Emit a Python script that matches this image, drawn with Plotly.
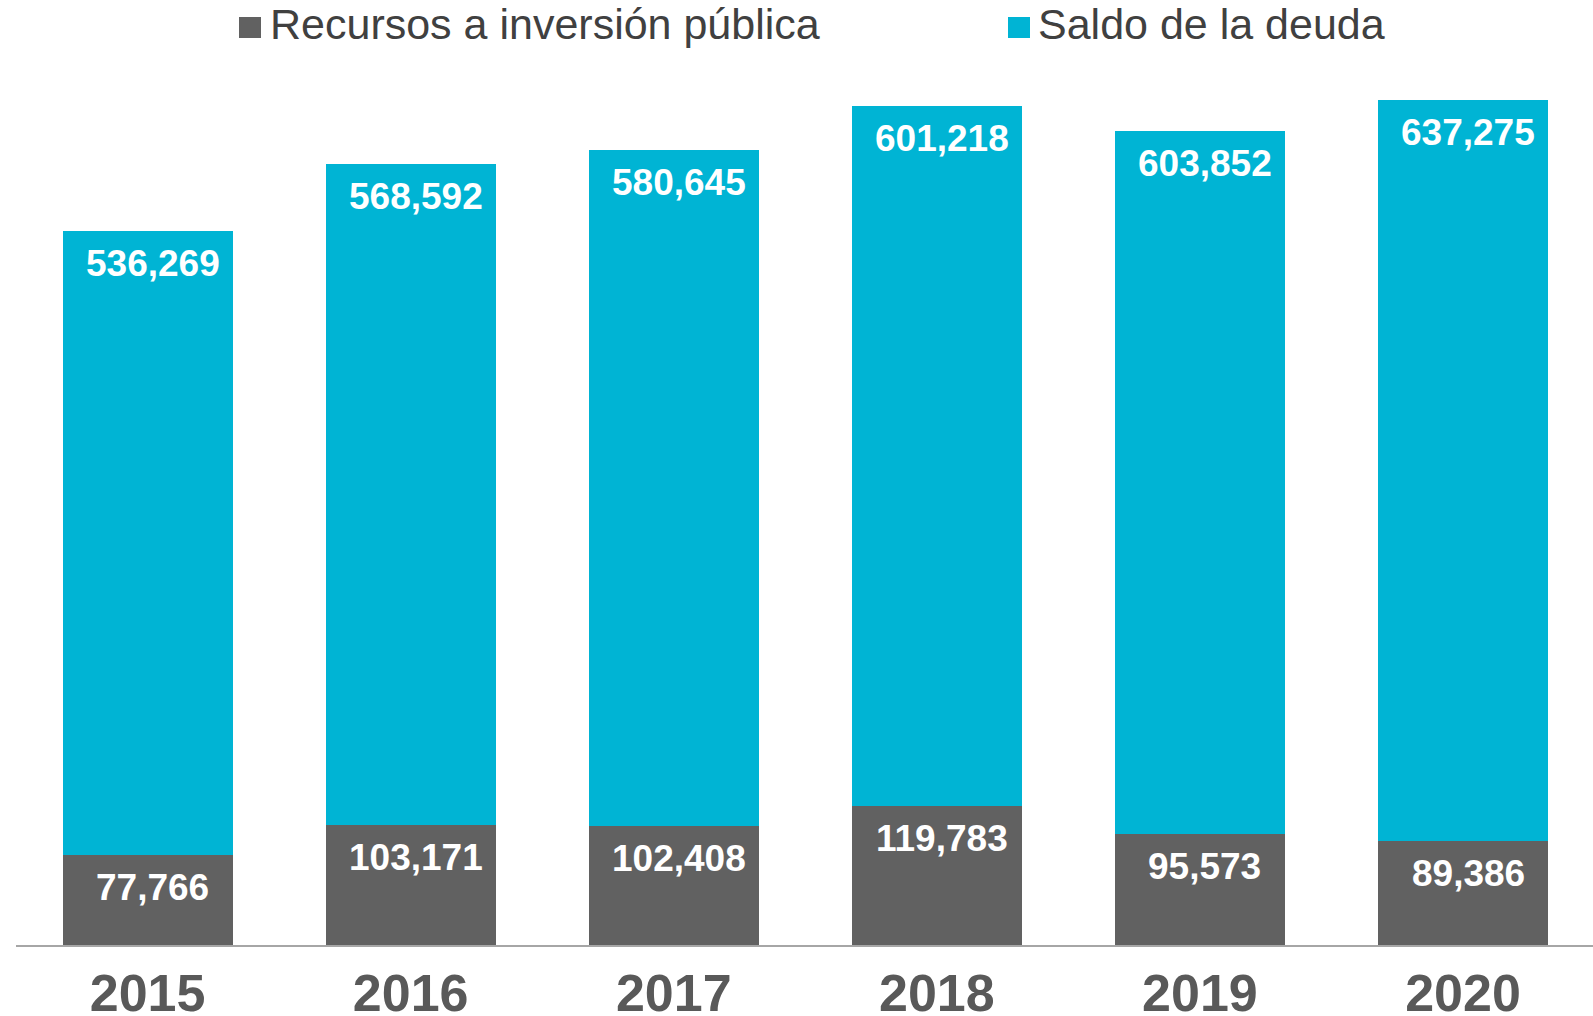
import plotly.graph_objects as go

# Data (millones)
years = ["2015", "2016", "2017", "2018", "2019", "2020"]
recursos_inversion = [77766, 103171, 102408, 119783, 95573, 89386]
saldo_deuda = [536269, 568592, 580645, 601218, 603852, 637275]

series_names = ["Recursos a inversión pública", "Saldo de la deuda"]
gray = "#616161"
teal = "#00B4D4"

W, H = 1593, 1016
M_L, M_R, M_T, M_B = 16, 0, 14, 71
plot_w = W - M_L - M_R
plot_h = H - M_T - M_B


def px_x(x):
    return (x - M_L) / plot_w


def px_y(y):
    return (H - M_B - y) / plot_h


fig = go.Figure()
fig.add_trace(go.Bar(x=years, y=recursos_inversion, name=series_names[0],
                     marker=dict(color=gray, line=dict(width=0)), showlegend=False))
fig.add_trace(go.Bar(x=years, y=saldo_deuda, name=series_names[1],
                     marker=dict(color=teal, line=dict(width=0)), showlegend=False))

label_font = dict(family="Liberation Sans, Arial, sans-serif", size=37, color="white", weight="bold")

annotations = []
for i, (r, s) in enumerate(zip(recursos_inversion, saldo_deuda)):
    # value labels near the top of each segment
    annotations.append(dict(x=i, y=r, xref="x", yref="y", text=f"{r:,}",
                            showarrow=False, yanchor="top", xanchor="center",
                            xshift=5, yshift=-10, font=label_font))
    annotations.append(dict(x=i, y=r + s, xref="x", yref="y", text=f"{s:,}",
                            showarrow=False, yanchor="top", xanchor="center",
                            xshift=5, yshift=-10, font=label_font))

# legend drawn as swatches + text across the top
legend_font = dict(family="Liberation Sans, Arial, sans-serif", size=43, color="#404040")
shapes = []
for (x0, x1, color), (tx, name) in zip(
        [(239, 261, gray), (1008, 1030, teal)],
        [(268, series_names[0]), (1036, series_names[1])]):
    shapes.append(dict(type="rect", xref="paper", yref="paper",
                       x0=px_x(x0), x1=px_x(x1), y0=px_y(38), y1=px_y(17),
                       fillcolor=color, line=dict(width=0)))
    annotations.append(dict(x=px_x(tx), y=px_y(23.5), xref="paper", yref="paper",
                            text=name, showarrow=False, xanchor="left", yanchor="middle",
                            font=legend_font))

fig.update_layout(
    barmode="stack",
    bargap=0.354,
    width=W, height=H,
    margin=dict(l=M_L, r=M_R, t=M_T, b=M_B, pad=0, autoexpand=False),
    paper_bgcolor="white",
    plot_bgcolor="white",
    showlegend=False,
    annotations=annotations,
    shapes=shapes,
    xaxis=dict(
        type="category",
        range=[-0.5, 5.494], autorange=False, automargin=False,
        showline=True, linecolor="#A6A6A6", linewidth=2,
        showgrid=False, zeroline=False, ticks="",
        tickfont=dict(family="Liberation Sans, Arial, sans-serif", size=52,
                      color="#595959", weight="bold"),
        ticklabelstandoff=2,
    ),
    yaxis=dict(visible=False, range=[0, 800300], autorange=False,
               showgrid=False, zeroline=False, automargin=False),
)

fig.write_html("out.html")
